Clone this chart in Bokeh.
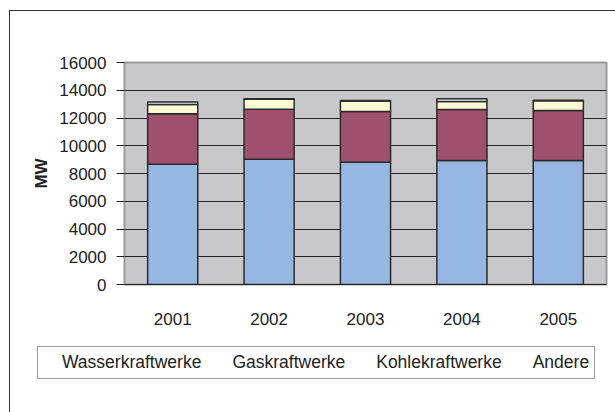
from bokeh.plotting import figure
from bokeh.models import (Range1d, FixedTicker, Legend, LegendItem, ColumnDataSource,
                          CDSView, IndexFilter)
from bokeh.embed import file_html
from bokeh.resources import INLINE

years = ["2001", "2002", "2003", "2004", "2005"]
wasser = [8670, 9030, 8810, 8940, 8940]
gas = [3630, 3600, 3660, 3670, 3600]
kohle = [680, 720, 750, 580, 700]
andere = [180, 30, 40, 200, 40]
series = ["Wasserkraftwerke", "Gaskraftwerke", "Kohlekraftwerke", "Andere"]
colors = ["#95b7e1", "#a0506f", "#fffbd5", "#eaf4fc"]
y_ticks = [0, 2000, 4000, 6000, 8000, 10000, 12000, 14000, 16000]

FONT = "Liberation Sans"
TXT = "#222222"
LINE = "linear-gradient(#333333, #333333)"

source = ColumnDataSource(dict(years=years, Wasserkraftwerke=wasser, Gaskraftwerke=gas,
                               Kohlekraftwerke=kohle, Andere=andere))

# ---- main chart ----
p = figure(x_range=years, y_range=Range1d(0, 16000), width=615, height=340,
           output_backend="svg", toolbar_location=None,
           min_border_left=124, min_border_right=9, min_border_top=62, min_border_bottom=56,
           background_fill_color="#c8c8ca", border_fill_alpha=0)
p.x_range.range_padding = 0
p.styles = {
    "background-color": "white",
    "background-image": f"{LINE}, {LINE}",
    "background-size": "1.3px 100%, 100% 1.3px",
    "background-position": "9px 10px, 9px 10px",
    "background-repeat": "no-repeat",
}

renderers = p.vbar_stack(series, x="years", width=0.52, fill_color=colors,
                         line_color="#2b2b2b", line_width=1.5, source=source)

p.outline_line_color = "#9a9a9a"
p.outline_line_width = 2

p.xgrid.grid_line_color = None
p.ygrid.grid_line_color = "#222222"
p.ygrid.grid_line_width = 1.2

p.yaxis.ticker = FixedTicker(ticks=y_ticks)
p.yaxis.axis_line_color = None
p.yaxis.major_tick_out = 8
p.yaxis.major_tick_in = 0
p.yaxis.minor_tick_line_color = None
p.yaxis.major_tick_line_color = "#222222"
p.yaxis.major_tick_line_width = 1.2
p.yaxis.major_label_standoff = 10
p.yaxis.axis_label = "MW"
p.yaxis.axis_label_text_font = FONT
p.yaxis.axis_label_text_font_style = "bold"
p.yaxis.axis_label_text_font_size = "17px"
p.yaxis.axis_label_text_color = TXT
p.yaxis.axis_label_standoff = 5

p.xaxis.axis_line_color = "#222222"
p.xaxis.axis_line_width = 1.2
p.xaxis.major_tick_line_color = None
p.xaxis.minor_tick_line_color = None
p.xaxis.major_label_standoff = 22

for ax in (p.xaxis, p.yaxis):
    ax.major_label_text_font = FONT
    ax.major_label_text_font_size = "17px"
    ax.major_label_text_color = TXT

# ---- legend strip below the chart: its bars are filtered out, only legend shows ----
p2 = figure(x_range=years, y_range=Range1d(-200000, -100000), width=615, height=72,
            output_backend="svg", toolbar_location=None,
            x_axis_location=None, y_axis_location=None,
            min_border=0, background_fill_alpha=0, border_fill_alpha=0)
p2.outline_line_color = None
p2.grid.grid_line_color = None
p2.styles = {
    "background-image": LINE,
    "background-size": "1.3px 100%",
    "background-position": "9px 0px",
    "background-repeat": "no-repeat",
}
hidden_view = CDSView(filter=IndexFilter(indices=[]))
legend_renderers = p2.vbar_stack(series, x="years", width=0.52, fill_color=colors,
                                 line_color="#2b2b2b", line_width=1.5, source=source,
                                 view=hidden_view)

legend = Legend(items=[LegendItem(label=s, renderers=[r]) for s, r in zip(series, legend_renderers)],
                orientation="horizontal", location=(37, 33),
                glyph_width=15, glyph_height=14, label_standoff=4, spacing=12,
                padding=5, margin=0,
                label_text_font=FONT, label_text_font_size="17.5px", label_text_color=TXT,
                border_line_color="#333333", border_line_width=1,
                background_fill_color="white", background_fill_alpha=1)
p2.add_layout(legend)

open("out.html", "w").write(file_html([p, p2], INLINE))
